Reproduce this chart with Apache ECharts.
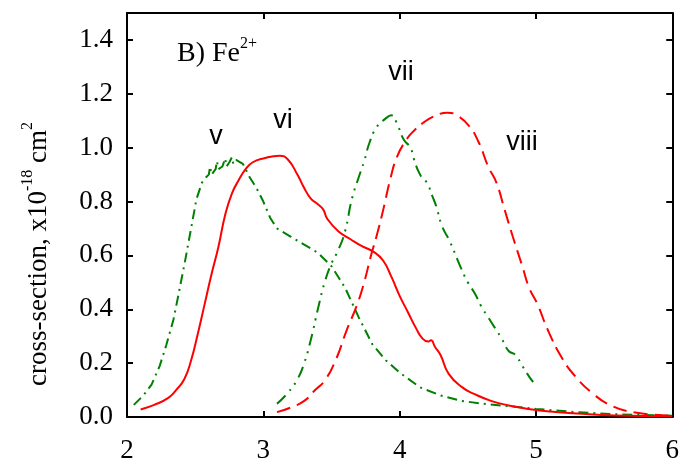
<!DOCTYPE html>
<html>
<head>
<meta charset="utf-8">
<script src="https://cdn.jsdelivr.net/npm/echarts@6/dist/echarts.min.js"></script>
<style>html,body{margin:0;padding:0;background:#fff;}#c{width:682px;height:464px;}</style>
</head>
<body>
<div id="c"></div>
<script>
// curve v (green, dash-dot)
var vX = [2.05,2.12,2.18,2.24,2.29,2.34,2.38,2.43,2.47,2.51,2.55,2.58,2.60,2.61,2.62,2.65,2.66,2.67,2.70,2.72,2.73,2.75,2.77,2.78,2.80,2.85,2.90,2.95,3.00,3.05,3.10,3.20,3.30,3.40,3.50,3.60,3.70,3.80,3.90,4.00,4.15,4.30,4.45,4.60,4.80,5.00,5.30,5.60,6.00];
var vY = [0.045,0.08,0.12,0.19,0.27,0.36,0.46,0.59,0.70,0.81,0.87,0.89,0.90,0.93,0.90,0.92,0.95,0.92,0.93,0.96,0.93,0.945,0.965,0.94,0.955,0.94,0.89,0.85,0.80,0.74,0.70,0.67,0.64,0.61,0.56,0.48,0.37,0.27,0.21,0.165,0.11,0.08,0.06,0.05,0.04,0.03,0.018,0.01,0.005];
// curve vi (red, solid)
var viX = [2.10,2.20,2.30,2.36,2.42,2.47,2.52,2.57,2.62,2.67,2.72,2.77,2.82,2.87,2.92,3.00,3.12,3.18,3.25,3.30,3.35,3.40,3.44,3.47,3.55,3.64,3.72,3.81,3.88,3.94,4.00,4.06,4.12,4.17,4.21,4.23,4.26,4.30,4.36,4.46,4.55,4.67,4.80,4.93,5.10,5.30,5.58,6.00];
var viY = [0.028,0.045,0.07,0.10,0.14,0.21,0.31,0.42,0.53,0.63,0.75,0.83,0.88,0.92,0.945,0.96,0.97,0.956,0.90,0.85,0.81,0.79,0.77,0.735,0.69,0.66,0.635,0.613,0.58,0.52,0.45,0.39,0.33,0.29,0.28,0.285,0.26,0.23,0.16,0.11,0.085,0.06,0.043,0.031,0.02,0.013,0.006,0.003];
// curve vii (green, dash-dot-dot)
var viiX = [3.10,3.18,3.25,3.30,3.35,3.40,3.45,3.50,3.55,3.60,3.65,3.70,3.74,3.78,3.83,3.89,3.94,3.98,4.03,4.08,4.10,4.15,4.20,4.24,4.27,4.31,4.37,4.44,4.50,4.55,4.60,4.65,4.70,4.75,4.80,4.85,4.90,4.95,4.98];
var viiY = [0.049,0.09,0.14,0.20,0.29,0.40,0.50,0.57,0.62,0.69,0.81,0.89,0.95,1.02,1.075,1.105,1.12,1.09,1.03,1.00,0.965,0.90,0.87,0.82,0.78,0.71,0.65,0.565,0.50,0.46,0.41,0.37,0.33,0.29,0.245,0.23,0.19,0.15,0.13];
// curve viii (red, dashed)
var viiiX = [3.10,3.20,3.30,3.38,3.45,3.53,3.61,3.69,3.74,3.79,3.83,3.88,3.93,3.98,4.05,4.10,4.18,4.27,4.35,4.42,4.51,4.58,4.65,4.71,4.77,4.83,4.90,4.95,5.01,5.09,5.19,5.29,5.42,5.55,5.71,5.97];
var viiiY = [0.018,0.035,0.06,0.10,0.135,0.21,0.32,0.42,0.50,0.60,0.67,0.77,0.88,0.965,1.03,1.06,1.095,1.12,1.13,1.12,1.08,1.02,0.93,0.87,0.77,0.67,0.56,0.48,0.42,0.32,0.22,0.15,0.086,0.043,0.018,0.006];

function pairs(xs, ys){ return xs.map(function(x,i){ return [x, ys[i]]; }); }

var GREEN = '#008000', RED = '#ff0000';
var axisFont = {fontFamily:'Liberation Serif', fontSize:27, color:'#000'};
var labelFont = '27px "Liberation Sans"';

var chart = echarts.init(document.getElementById('c'), null, {renderer:'canvas'});
chart.setOption({
  animation:false,
  backgroundColor:'#fff',
  grid:{left:127, right:4, top:13, bottom:44, containLabel:false},
  xAxis:[
    {type:'value', min:2, max:6, interval:1, position:'bottom',
     axisLine:{lineStyle:{color:'#000', width:2}},
     axisTick:{inside:true, length:6, lineStyle:{color:'#000', width:2}},
     axisLabel:Object.assign({margin:20}, axisFont),
     splitLine:{show:false}},
    {type:'value', min:2, max:6, interval:1, position:'top',
     axisLine:{onZero:false, lineStyle:{color:'#000', width:2}},
     axisTick:{inside:true, length:6, lineStyle:{color:'#000', width:2}},
     axisLabel:{show:false}, splitLine:{show:false}}
  ],
  yAxis:[
    {type:'value', min:0, max:1.5, interval:0.2, position:'left',
     axisLine:{show:true, lineStyle:{color:'#000', width:2}},
     axisTick:{show:true, inside:true, length:6, lineStyle:{color:'#000', width:2}},
     axisLabel:Object.assign({margin:14, formatter:function(v){ return v > 1.45 ? '' : v.toFixed(1); }}, axisFont),
     splitLine:{show:false}},
    {type:'value', min:0, max:1.5, interval:0.2, position:'right',
     axisLine:{show:true, onZero:false, lineStyle:{color:'#000', width:2}},
     axisTick:{show:true, inside:true, length:6, lineStyle:{color:'#000', width:2}},
     axisLabel:{show:false}, splitLine:{show:false}}
  ],
  series:[
    {type:'line', name:'v', data:pairs(vX, vY), showSymbol:false, smooth:false,
     lineStyle:{color:GREEN, width:2, type:[10,5,2,5]}},
    {type:'line', name:'vi', data:pairs(viX, viY), showSymbol:false, smooth:true,
     lineStyle:{color:RED, width:2, type:'solid'}},
    {type:'line', name:'vii', data:pairs(viiX, viiY), showSymbol:false, smooth:true,
     lineStyle:{color:GREEN, width:2, type:[12,6,2,6,2,6]}},
    {type:'line', name:'viii', data:pairs(viiiX, viiiY), showSymbol:false, smooth:true,
     lineStyle:{color:RED, width:2, type:[14,7]}}
  ],
  graphic:[
    {type:'text', x:177, y:52, style:{text:'{n|B) Fe}{s|2+}', verticalAlign:'middle',
      rich:{n:{fontFamily:'Liberation Serif', fontSize:28, fill:'#000', lineHeight:32, verticalAlign:'bottom'},
            s:{fontFamily:'Liberation Serif', fontSize:16, fill:'#000', lineHeight:32, verticalAlign:'top'}}}},
    {type:'text', x:216, y:137, style:{text:'v', font:labelFont, fill:'#000', align:'center', verticalAlign:'middle'}},
    {type:'text', x:283, y:121, style:{text:'vi', font:labelFont, fill:'#000', align:'center', verticalAlign:'middle'}},
    {type:'text', x:401, y:73, style:{text:'vii', font:labelFont, fill:'#000', align:'center', verticalAlign:'middle'}},
    {type:'text', x:522, y:143, style:{text:'viii', font:labelFont, fill:'#000', align:'center', verticalAlign:'middle'}},
    {type:'text', x:36, y:254, rotation:Math.PI/2,
     style:{text:'{n|cross-section, x10}{s|-18}{n| cm}{s|2}', align:'center', verticalAlign:'middle',
      rich:{n:{fontFamily:'Liberation Serif', fontSize:27, fill:'#000', lineHeight:32, verticalAlign:'bottom'},
            s:{fontFamily:'Liberation Serif', fontSize:16, fill:'#000', lineHeight:32, verticalAlign:'top'}}}}
  ]
});
</script>
</body>
</html>
